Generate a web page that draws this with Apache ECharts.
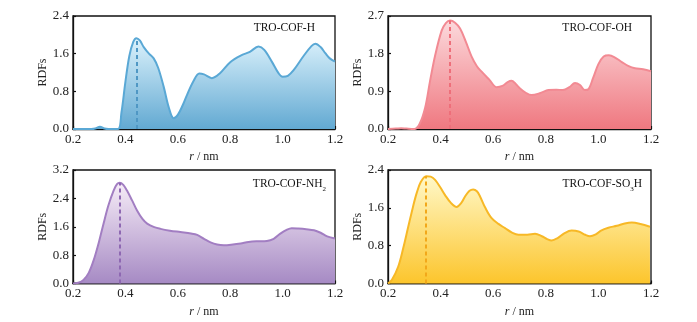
<!DOCTYPE html>
<html>
<head>
<meta charset="utf-8">
<script src="https://cdn.jsdelivr.net/npm/echarts@6/dist/echarts.min.js"></script>
<style>html,body{margin:0;padding:0;background:#fff}#c{width:697px;height:322px}</style>
</head>
<body>
<div id="c"></div>
<script>
// ---- data (r in nm, RDF value) ----
const xTicks = ['0.2','0.4','0.6','0.8','1.0','1.2'];
const titles = ['TRO-COF-H', 'TRO-COF-OH', 'TRO-COF-NH2', 'TRO-COF-SO3H'];
const yMax = [2.4, 2.7, 3.2, 2.4];
const yStep = [0.8, 0.9, 0.8, 0.8];

const rdfH = [[0.2,0],[0.27,0],[0.285,0.01],[0.303,0.05],[0.32,0.01],[0.335,0],[0.372,0],[0.385,0.35],[0.40,1.0],[0.415,1.55],[0.43,1.85],[0.442,1.93],[0.455,1.88],[0.47,1.74],[0.49,1.6],[0.508,1.5],[0.525,1.3],[0.546,0.9],[0.566,0.45],[0.584,0.23],[0.60,0.3],[0.62,0.52],[0.635,0.72],[0.66,1.02],[0.682,1.18],[0.70,1.16],[0.73,1.08],[0.76,1.18],[0.80,1.42],[0.84,1.56],[0.875,1.64],[0.908,1.75],[0.93,1.68],[0.96,1.42],[0.985,1.18],[1.0,1.11],[1.02,1.13],[1.042,1.25],[1.08,1.55],[1.11,1.76],[1.125,1.81],[1.145,1.74],[1.163,1.61],[1.18,1.5],[1.2,1.43]];
const rdfOH = [[0.2,0],[0.23,0.01],[0.25,0.02],[0.27,0.01],[0.30,0],[0.32,0.12],[0.341,0.5],[0.36,1.15],[0.379,1.75],[0.404,2.35],[0.42,2.53],[0.436,2.59],[0.455,2.54],[0.474,2.4],[0.495,2.1],[0.518,1.73],[0.538,1.5],[0.556,1.37],[0.585,1.18],[0.613,1.0],[0.635,1.03],[0.655,1.12],[0.67,1.15],[0.685,1.08],[0.702,0.97],[0.725,0.86],[0.746,0.81],[0.78,0.86],[0.81,0.93],[0.84,0.94],[0.865,0.93],[0.89,1.0],[0.911,1.1],[0.93,1.05],[0.948,0.93],[0.962,0.95],[0.98,1.22],[1.0,1.55],[1.02,1.73],[1.04,1.76],[1.06,1.72],[1.089,1.6],[1.115,1.5],[1.139,1.45],[1.17,1.43],[1.2,1.38]];
const rdfNH2 = [[0.2,0],[0.22,0.02],[0.24,0.1],[0.26,0.3],[0.279,0.66],[0.30,1.2],[0.317,1.7],[0.335,2.2],[0.355,2.62],[0.368,2.8],[0.378,2.84],[0.392,2.78],[0.406,2.62],[0.425,2.35],[0.445,2.05],[0.465,1.82],[0.483,1.69],[0.51,1.59],[0.534,1.54],[0.57,1.49],[0.61,1.45],[0.65,1.41],[0.674,1.37],[0.70,1.26],[0.725,1.16],[0.75,1.1],[0.776,1.08],[0.81,1.1],[0.84,1.13],[0.87,1.17],[0.90,1.19],[0.94,1.2],[0.966,1.26],[0.99,1.4],[1.017,1.52],[1.035,1.56],[1.06,1.55],[1.09,1.53],[1.12,1.5],[1.145,1.43],[1.17,1.33],[1.2,1.27]];
const rdfSO3H = [[0.2,0],[0.215,0.08],[0.239,0.36],[0.258,0.75],[0.277,1.2],[0.295,1.62],[0.309,1.91],[0.325,2.15],[0.345,2.27],[0.362,2.26],[0.379,2.19],[0.398,2.04],[0.417,1.87],[0.44,1.7],[0.461,1.62],[0.478,1.7],[0.493,1.84],[0.51,1.96],[0.524,1.99],[0.538,1.95],[0.55,1.84],[0.57,1.6],[0.594,1.38],[0.62,1.26],[0.645,1.17],[0.67,1.08],[0.696,1.03],[0.73,1.03],[0.759,1.05],[0.785,1.0],[0.805,0.94],[0.822,0.91],[0.845,0.96],[0.87,1.06],[0.898,1.12],[0.925,1.1],[0.95,1.03],[0.968,1.0],[0.99,1.04],[1.01,1.12],[1.038,1.18],[1.07,1.22],[1.1,1.27],[1.127,1.29],[1.16,1.26],[1.196,1.2]];
const peaks = [[0.442,1.93],[0.436,2.59],[0.378,2.84],[0.345,2.27]];

const allData = [rdfH, rdfOH, rdfNH2, rdfSO3H];
const lineColors = ['#5aa8d5', '#f28a93', '#a27ec2', '#f7b826'];
const dashColors = ['#4f97c4', '#ee6f7a', '#8e68b2', '#f2a81a'];
const topColors = ['#dcf2fc', '#fcd9dc', '#f6ecf7', '#fff8c8'];
const botColors = ['#62a9d2', '#ef7880', '#a68ac4', '#fcc52c'];

const grids = [
  {left:73, top:16, width:262, height:113},
  {left:388, top:16, width:263, height:113},
  {left:73, top:170, width:262, height:113.5},
  {left:388, top:170, width:263, height:113.5}
];
const titlePos = [
  {right: 697-315, top: 20},
  {right: 697-632, top: 20},
  {right: 697-326, top: 176},
  {right: 697-642, top: 176}
];
const titleRich = [
  '{n|TRO-COF-H}',
  '{n|TRO-COF-OH}',
  '{n|TRO-COF-NH}{s|2}',
  '{n|TRO-COF-SO}{s|3}{n|H}'
];

const font = 'Liberation Serif, Times New Roman, serif';
const option = {
  animation:false,
  backgroundColor:'#fff',
  textStyle:{fontFamily:font},
  title: titles.map((t,i)=>({
    text: titleRich[i],
    right: titlePos[i].right, top: titlePos[i].top,
    padding:0,
    textStyle:{
      fontFamily:font, color:'#111', fontWeight:'normal', fontSize:11.5,
      rich:{
        n:{fontFamily:font, fontSize:11.5, color:'#111', lineHeight:14, verticalAlign:'bottom'},
        s:{fontFamily:font, fontSize:7, color:'#111', lineHeight:14, verticalAlign:'bottom', padding:[0,0,-3,0]}
      }
    }
  })),
  grid: grids.map(g=>Object.assign({show:true, borderColor:'#111', borderWidth:1.3, backgroundColor:'transparent'}, g)),
  xAxis: grids.map((g,i)=>({
    gridIndex:i, type:'value', min:0.2, max:1.2, interval:0.2,
    name:'{i|r} / nm', nameLocation:'middle', nameGap:22,
    nameTextStyle:{fontFamily:font, fontSize:12, color:'#222', rich:{i:{fontFamily:font, fontStyle:'italic', fontSize:12, color:'#222'}}},
    axisLine:{show:true, onZero:false, lineStyle:{color:'#111', width:1.3}},
    axisTick:{show:true, inside:true, length:3, lineStyle:{color:'#111', width:1.2}},
    splitLine:{show:false},
    axisLabel:{fontFamily:font, fontSize:13, color:'#222', margin:4,
      formatter:(v)=>xTicks[Math.round((v-0.2)/0.2)] }
  })),
  yAxis: grids.map((g,i)=>({
    gridIndex:i, type:'value', min:0, max:yMax[i], interval:yStep[i],
    name:'RDFs', nameLocation:'middle', nameGap:23,
    nameTextStyle:{fontFamily:font, fontSize:12, color:'#222'},
    axisLine:{show:true, lineStyle:{color:'#111', width:1.3}},
    axisTick:{show:true, inside:true, length:3, lineStyle:{color:'#111', width:1.2}},
    splitLine:{show:false},
    axisLabel:{fontFamily:font, fontSize:13, color:'#222', margin:4, formatter:(v)=>v.toFixed(1)}
  })),
  series: allData.map((d,i)=>({
    type:'line', xAxisIndex:i, yAxisIndex:i, data:d, smooth:0.35, showSymbol:false, clip:true,
    lineStyle:{color:lineColors[i], width:2},
    areaStyle:{opacity:1, color:{type:'linear', x:0, y:0, x2:0, y2:1, colorStops:[{offset:0, color:topColors[i]},{offset:1, color:botColors[i]}]}},
    markLine:{
      silent:true, symbol:['none','none'], label:{show:false},
      lineStyle:{color:dashColors[i], type:[4,3], width:2, opacity:1},
      data:[[{coord:[peaks[i][0],0]},{coord:[peaks[i][0],peaks[i][1]]}]]
    }
  }))
};
echarts.init(document.getElementById('c'), null, {renderer:'canvas'}).setOption(option);
</script>
</body>
</html>
